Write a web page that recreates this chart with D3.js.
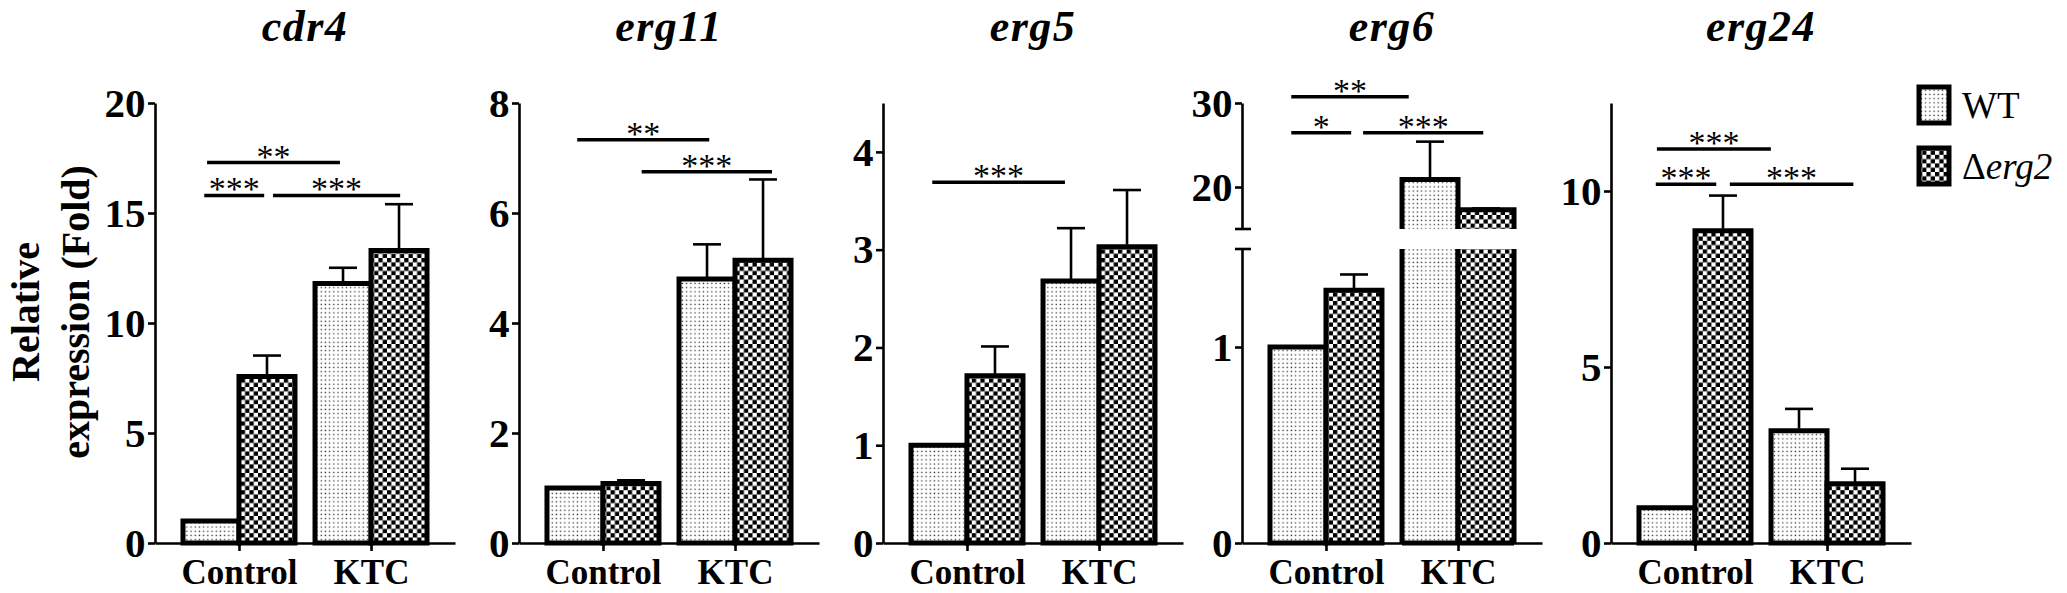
<!DOCTYPE html>
<html><head><meta charset="utf-8">
<script src="https://cdn.jsdelivr.net/npm/d3@7"></script>
<style>html,body{margin:0;padding:0;background:#fff;} svg{display:block}</style>
</head><body>
<svg id="chart" width="2067" height="593"></svg>
<script>
// ---------------- DATA ----------------
const genes = ["cdr4", "erg11", "erg5", "erg6", "erg24"];
const categories = ["Control", "KTC"];
const seriesNames = ["WT", "Δerg2"];

const wtControl    = [1.0, 1.0, 1.0, 1.0, 1.0];
const wtKTC        = [11.8, 4.80, 2.68, 20.9, 3.19];
const koControl    = [7.57, 1.08, 1.71, 1.29, 8.87];
const koKTC        = [13.3, 5.14, 3.03, 17.3, 1.68];
const wtControlErr = [0, 0, 0, 0, 0];
const wtKTCErr     = [0.71, 0.63, 0.54, 4.5, 0.62];
const koControlErr = [0.95, 0.06, 0.30, 0.08, 1.0];
const koKTCErr     = [2.1, 1.47, 0.58, 0.15, 0.43];

const yMax   = [20, 8, 4.5, 30, 12.5];
const yTicks = [[0, 5, 10, 15, 20], [0, 2, 4, 6, 8], [0, 1, 2, 3, 4], [0, 1], [0, 5, 10]];
// erg6 uses a broken axis
const erg6LowerDomain = [0, 1.5];
const erg6UpperDomain = [15, 30];
const erg6UpperTicks  = [20, 30];

// significance brackets: gene index, from/to bar slot (0=WT Control,1=Δ Control,2=WT KTC,3=Δ KTC), level, label
const sigGene  = [0, 0, 0, 1, 1, 2, 3, 3, 3, 4, 4, 4];
const sigFrom  = [-0.07, -0.12, 1.08, 0.04, 1.14, -0.12, -0.12, -0.12, 1.12, -0.18, -0.2, 1.09];
const sigTo    = [1.96, 0.95, 3.02, 2.04, 3.16, 1.92, 1.72, 0.95, 2.95, 1.63, 0.88, 2.97];
const sigLevel = [17.29, 15.8, 15.8, 7.33, 6.75, 3.69, 30.75, 26.46, 26.46, 11.19, 10.19, 10.19];
const sigLabel = ["**", "***", "***", "**", "***", "***", "**", "*", "***", "***", "***", "***"];

const yLabelLines = ["Relative", "expression (Fold)"];

// ---------------- LAYOUT ----------------
const panelLeft = [155, 519, 883, 1242, 1611];
const axisLen = 300, baseY = 543, topY = 103;
const barW = 56;
const FONT = "'Liberation Serif','Times New Roman',Times,serif";

const svg = d3.select("#chart");
const defs = svg.append("defs");
const pd = defs.append("pattern").attr("id", "dots").attr("patternUnits", "userSpaceOnUse")
  .attr("width", 4.2).attr("height", 4.2);
pd.append("rect").attr("width", 4.2).attr("height", 4.2).attr("fill", "#fff");
pd.append("rect").attr("x", 1.4).attr("y", 1.4).attr("width", 1.3).attr("height", 1.3).attr("fill", "#333");
const pc = defs.append("pattern").attr("id", "checks").attr("patternUnits", "userSpaceOnUse")
  .attr("width", 8.6).attr("height", 8.6);
pc.append("rect").attr("width", 8.6).attr("height", 8.6).attr("fill", "#fff");
pc.append("rect").attr("width", 4.3).attr("height", 4.3).attr("fill", "#000");
pc.append("rect").attr("x", 4.3).attr("y", 4.3).attr("width", 4.3).attr("height", 4.3).attr("fill", "#000");
const fills = ["url(#dots)", "url(#checks)"];

genes.forEach((gene, gi) => {
  const left = panelLeft[gi];
  const g = svg.append("g");
  const x = d3.scalePoint().domain(categories).range([left, left + axisLen]).padding(0.636);
  const sub = d3.scaleBand().domain(seriesNames).range([-barW, barW]);

  let segs;
  if (gene === "erg6") {
    segs = [
      { d: erg6LowerDomain, r: [baseY, 249], ticks: yTicks[gi], first: true },
      { d: erg6UpperDomain, r: [229, topY], ticks: erg6UpperTicks, first: false }
    ];
  } else {
    segs = [{ d: [0, yMax[gi]], r: [baseY, topY], ticks: yTicks[gi], first: true }];
  }
  segs.forEach(s => s.scale = d3.scaleLinear().domain(s.d).range(s.r));
  const segFor = v => {
    for (let k = segs.length - 1; k >= 0; k--) if (v >= segs[k].d[0]) return segs[k];
    return segs[0];
  };

  // bars
  const bars = [
    { c: "Control", s: "WT", v: wtControl[gi], e: wtControlErr[gi] },
    { c: "Control", s: "Δerg2", v: koControl[gi], e: koControlErr[gi] },
    { c: "KTC", s: "WT", v: wtKTC[gi], e: wtKTCErr[gi] },
    { c: "KTC", s: "Δerg2", v: koKTC[gi], e: koKTCErr[gi] }
  ];
  bars.forEach(b => {
    const x0 = x(b.c) + sub(b.s), x1 = x0 + barW;
    const fill = fills[seriesNames.indexOf(b.s)];
    segs.forEach(s => {
      if (b.v <= s.d[0]) return;
      const clipped = b.v > s.d[1];
      const yB = s.r[0];
      const yT = clipped ? s.r[1] : s.scale(b.v);
      g.append("rect").attr("x", x0).attr("y", yT).attr("width", barW).attr("height", yB - yT)
        .attr("fill", fill);
      let p;
      if (!clipped) p = `M${x0},${yB}V${yT}H${x1}V${yB}` + (s.first ? "Z" : "");
      else p = `M${x0},${yB}V${yT}M${x1},${yT}V${yB}` + (s.first ? `M${x0},${yB}H${x1}` : "");
      g.append("path").attr("d", p).attr("fill", "none").attr("stroke", "#000")
        .attr("stroke-width", 5).attr("stroke-linejoin", "miter").attr("stroke-linecap", "butt");
    });
    if (b.e > 0) {
      const s = segFor(b.v);
      const xc = (x0 + x1) / 2;
      const yv = s.scale(b.v), ye = s.scale(b.v + b.e);
      g.append("line").attr("x1", xc).attr("x2", xc).attr("y1", yv - 2).attr("y2", ye)
        .attr("stroke", "#000").attr("stroke-width", 2.6);
      g.append("line").attr("x1", xc - 14).attr("x2", xc + 14).attr("y1", ye).attr("y2", ye)
        .attr("stroke", "#000").attr("stroke-width", 2.6);
    }
  });

  // y axis (segments)
  const ax = panelLeft[gi];
  segs.forEach(s => {
    const a = g.append("g").attr("transform", `translate(${ax},0)`)
      .call(d3.axisLeft(s.scale).tickValues(s.ticks).tickSize(7).tickSizeOuter(0).tickPadding(2.5)
        .tickFormat(d3.format("d")));
    a.select(".domain").attr("stroke-width", 2.6);
    a.selectAll(".tick line").attr("stroke-width", 2.6);
    a.selectAll(".tick text").attr("font-family", FONT).attr("font-weight", "bold")
      .attr("font-size", 41).attr("fill", "#000");
  });
  if (segs.length > 1) {
    [segs[0].r[1], segs[1].r[0]].forEach(yy => {
      g.append("line").attr("x1", ax - 7).attr("x2", ax + 9).attr("y1", yy).attr("y2", yy)
        .attr("stroke", "#000").attr("stroke-width", 2.6);
    });
  }

  // x axis
  const xa = g.append("g").attr("transform", `translate(0,${baseY})`)
    .call(d3.axisBottom(x).tickSize(8).tickSizeOuter(0).tickPadding(8));
  xa.select(".domain").attr("stroke-width", 2.6);
  xa.selectAll(".tick line").attr("stroke-width", 2.6);
  xa.selectAll(".tick text").attr("font-family", FONT).attr("font-weight", "bold")
    .attr("font-size", 35).attr("fill", "#000");

  // title
  g.append("text").attr("x", left + axisLen / 2).attr("y", 41).attr("text-anchor", "middle")
    .attr("font-family", FONT).attr("font-weight", "bold").attr("font-style", "italic")
    .attr("font-size", 44).attr("letter-spacing", 1.5).text(gene);

  // significance
  const centers = [x("Control") + sub("WT") + barW / 2, x("Control") + sub("Δerg2") + barW / 2,
                   x("KTC") + sub("WT") + barW / 2, x("KTC") + sub("Δerg2") + barW / 2];
  const slotX = d3.scaleLinear().domain([0, 1, 2, 3]).range(centers);
  sigGene.forEach((sg, k) => {
    if (sg !== gi) return;
    const s = segs[segs.length - 1];
    const yy = s.scale(sigLevel[k]);
    const xa1 = slotX(sigFrom[k]), xa2 = slotX(sigTo[k]);
    g.append("line").attr("x1", xa1).attr("x2", xa2).attr("y1", yy).attr("y2", yy)
      .attr("stroke", "#000").attr("stroke-width", 3.5);
    g.append("text").attr("x", (xa1 + xa2) / 2).attr("y", yy + 5).attr("text-anchor", "middle")
      .attr("font-family", FONT).attr("font-size", 34).text(sigLabel[k]);
  });
});

// y-axis title
const yl = svg.append("g");
[[39, yLabelLines[0]], [89, yLabelLines[1]]].forEach(([xx, t]) => {
  yl.append("text").attr("transform", `translate(${xx},312) rotate(-90)`).attr("text-anchor", "middle")
    .attr("font-family", FONT).attr("font-weight", "bold").attr("font-size", 40).text(t);
});

// legend
const lg = svg.append("g");
seriesNames.forEach((s, i) => {
  const yy = 87 + i * 61;
  lg.append("rect").attr("x", 1919).attr("y", yy).attr("width", 30).attr("height", 36)
    .attr("fill", fills[i]).attr("stroke", "#000").attr("stroke-width", 5);
  const t = lg.append("text").attr("x", 1962).attr("y", yy + 31).attr("font-family", FONT)
    .attr("font-size", 37);
  if (s === "WT") t.text("WT");
  else {
    t.append("tspan").text("Δ");
    t.append("tspan").attr("font-style", "italic").text("erg2");
  }
});
</script>
</body></html>
